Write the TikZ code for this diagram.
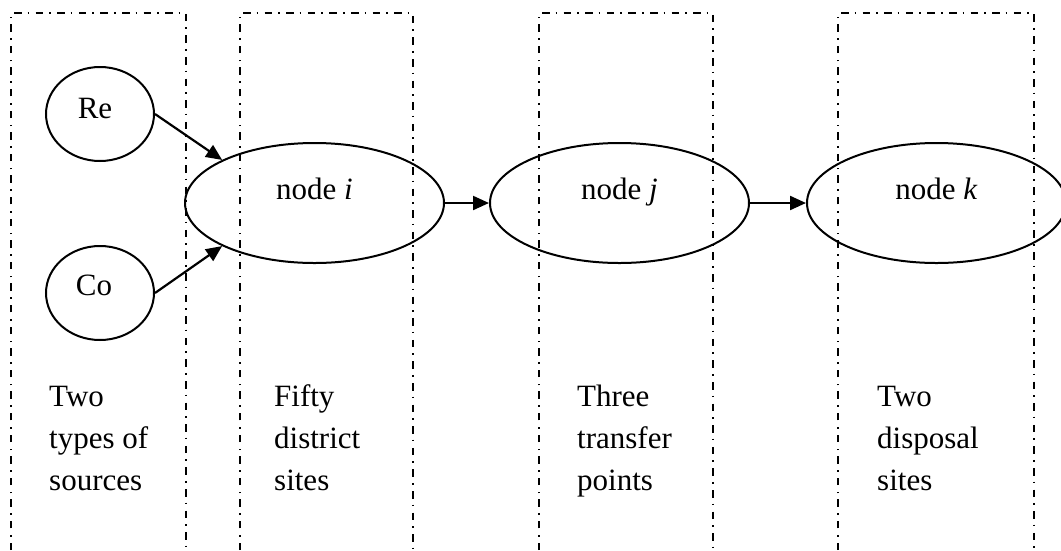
\documentclass[tikz,border=0pt]{standalone}
\usepackage{fontspec}
\setmainfont{Liberation Serif}
\usetikzlibrary{shapes.geometric,arrows.meta}
\begin{document}
\begin{tikzpicture}[x=1pt,y=-1pt,
  column/.style={line width=1.6pt, dash pattern=on 7.5pt off 6pt on 1.6pt off 6.5pt},
  src/.style={draw, ellipse, line width=2pt, inner sep=0pt, minimum width=108pt, minimum height=94pt},
  site/.style={draw, ellipse, line width=2pt, inner sep=0pt, minimum width=259pt, minimum height=120pt},
  txt/.style={font=\fontsize{31}{42}\selectfont, inner sep=0pt, anchor=base},
  caption/.style={font=\fontsize{31}{42}\selectfont, inner sep=0pt, align=left, anchor=base west},
  flow/.style={line width=2.2pt, -{Triangle[length=16pt,width=14pt]}}]
\useasboundingbox (0,0) rectangle (1061,550);

% open-bottomed columns
\draw[column] (11,550) -- (11,13) -- (186,13) -- (186,550);
\draw[column] (240,550) -- (240,13) -- (413,13) -- (413,550);
\draw[column] (539,550) -- (539,13) -- (713,13) -- (713,550);
\draw[column] (838,550) -- (838,13) -- (1034,13) -- (1034,550);

% sources
\node[src] (Re) at (100,114) {};
\node[src] (Co) at (100,293) {};
\node[txt] (ReT) at ([xshift=-5pt,yshift=-4pt]Re.center) {Re};
\node[txt] (CoT) at ([xshift=-6pt,yshift=-2pt]Co.center) {Co};

% sites
\node[site] (i) at (314.5,203) {};
\node[site] (j) at (619.5,203) {};
\node[site] (k) at (936.5,203) {};
\node[txt] (iT) at ([yshift=4pt]i.center) {node \textit{i}};
\node[txt] (jT) at ([yshift=4pt]j.center) {node \textit{j}};
\node[txt] (kT) at ([yshift=4pt]k.center) {node \textit{k}};

% flows
\draw[flow] (Re.east) -- (i.155);
\draw[flow] (Co.east) -- (i.205);
\draw[flow] (i.east) -- (j.west);
\draw[flow] (j.east) -- (k.west);

% column captions (anchored at the baseline of the last line)
\node[caption] (c1) at (49,490) {Two\\types of\\sources};
\node[caption] (c2) at (274,490) {Fifty\\district\\sites};
\node[caption] (c3) at (577,490) {Three\\transfer\\points};
\node[caption] (c4) at (877,490) {Two\\disposal\\sites};
\end{tikzpicture}
\end{document}
